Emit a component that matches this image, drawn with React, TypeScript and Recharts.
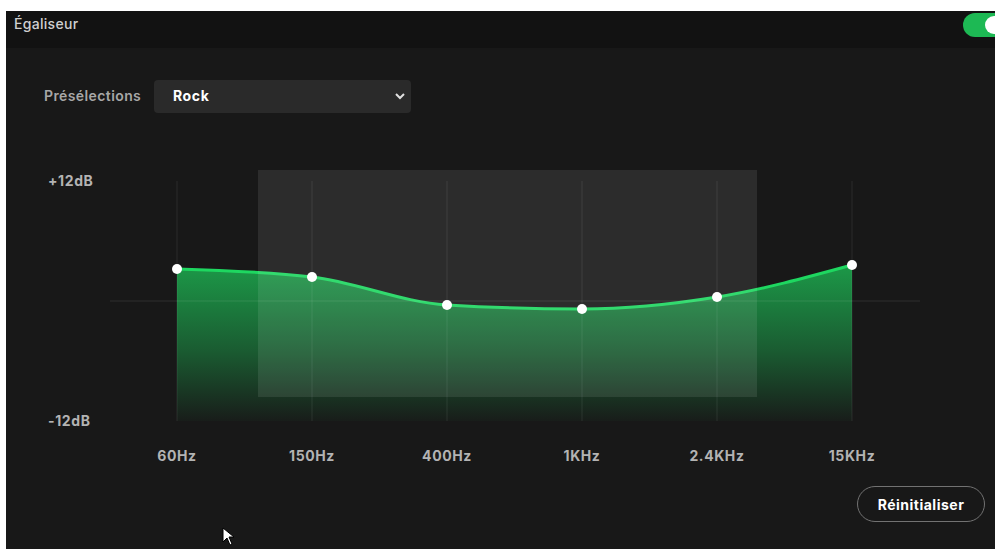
import React from "react"
import {
  AreaChart, Area, XAxis, YAxis, ReferenceLine,
} from "recharts"

// bandes de l'égaliseur (préréglage Rock)
const bands = ["60Hz", "150Hz", "400Hz", "1KHz", "2.4KHz", "15KHz"]
const gains = [3.2, 2.4, -0.4, -0.8, 0.4, 3.6]
const yTicks = [-12, 12]
const yTickLabels: Record<string, string> = { "12": "+12dB", "-12": "-12dB" }

const chartData = bands.map((b, i) => ({ band: b, gain: gains[i] }))

const FONT = "Inter, 'Noto Sans', sans-serif"

function YTick(props: any) {
  const { x, y, payload } = props
  return (
    <text x={x - 62} y={y} dy="0.35em" textAnchor="start" fill="#b3b3b3"
      fontSize={14} fontWeight={700} fontFamily={FONT} letterSpacing={0.6}>
      {yTickLabels[String(payload.value)]}
    </text>
  )
}

function EqChart() {
  return (
    <AreaChart
      width={995}
      height={549}
      data={chartData}
      margin={{ top: 181, right: 75, left: 48, bottom: 78 }}
    >
      <defs>
        <linearGradient id="eqFill" x1="0" y1="0" x2="0" y2="1">
          <stop offset="0%" stopColor="#1db954" stopOpacity={0.8} />
          <stop offset="55%" stopColor="#1db954" stopOpacity={0.42} />
          <stop offset="100%" stopColor="#1db954" stopOpacity={0.03} />
        </linearGradient>
      </defs>
      <XAxis
        dataKey="band"
        padding={{ left: 67, right: 68 }}
        axisLine={false}
        tickLine={false}
        tickSize={0}
        tickMargin={30}
        height={50}
        interval={0}
        tick={{ fill: "#b3b3b3", fontSize: 14, fontWeight: 700, fontFamily: FONT, letterSpacing: 0.6 }}
      />
      <YAxis
        type="number"
        domain={[-12, 12]}
        ticks={yTicks}
        width={62}
        axisLine={false}
        tickLine={false}
        tickSize={0}
        tickMargin={0}
        tick={<YTick />}
      />
      {bands.map((b) => (
        <ReferenceLine key={b} x={b} stroke="rgba(255,255,255,0.09)" strokeWidth={1} />
      ))}
      <ReferenceLine y={0} stroke="rgba(255,255,255,0.07)" strokeWidth={1.5} />
      <Area
        type="monotone"
        dataKey="gain"
        baseValue={-12}
        stroke="#1ed760"
        strokeWidth={3}
        fill="url(#eqFill)"
        fillOpacity={1}
        dot={{ r: 5, fill: "#ffffff", stroke: "none" }}
        activeDot={false}
        isAnimationActive={false}
      />
    </AreaChart>
  )
}

export default function App() {
  return (
    <div style={{ position: "relative", width: 995, height: 549, background: "#ffffff", overflow: "hidden", fontFamily: FONT }}>
      <style>{"body{margin:0}"}</style>
      <div style={{ position: "absolute", left: 6, top: 11, right: 0, bottom: 0, background: "#181818" }} />
      <div style={{ position: "absolute", left: 6, top: 11, right: 0, height: 37, background: "#121212" }} />
      <div style={{ position: "absolute", left: 14, top: 15, color: "#d0d0d0", fontSize: 14, fontWeight: 500, letterSpacing: 0.3 }}>Égaliseur</div>
      <div style={{ position: "absolute", left: 963, top: 13, width: 50, height: 24, borderRadius: 12, background: "#1db954" }}>
        <div style={{ position: "absolute", left: 22, top: 3, width: 18, height: 18, borderRadius: 9, background: "#ffffff" }} />
      </div>

      <div style={{ position: "absolute", left: 44, top: 87, color: "#a7a7a7", fontSize: 14, fontWeight: 600, letterSpacing: 0.4 }}>Présélections</div>
      <div style={{ position: "absolute", left: 154, top: 80, width: 257, height: 33, borderRadius: 4, background: "#2a2a2a" }}>
        <span style={{ position: "absolute", left: 19, top: 7, color: "#ffffff", fontSize: 14, fontWeight: 700, letterSpacing: 0.6 }}>Rock</span>
        <svg style={{ position: "absolute", left: 241, top: 13 }} width={10} height={8}>
          <path d="M1 1 L5 5 L9 1" stroke="#e0e0e0" strokeWidth={2} fill="none" />
        </svg>
      </div>

      <div style={{ position: "absolute", left: 0, top: 0 }}>
        <EqChart />
      </div>

      {/* filigrane gris */}
      <div style={{ position: "absolute", left: 258, top: 170, width: 499, height: 227, background: "rgba(255,255,255,0.09)", pointerEvents: "none" }} />

      <div style={{
        position: "absolute", left: 857, top: 486, width: 128, height: 36, borderRadius: 18,
        border: "1px solid #727272", color: "#ffffff", fontSize: 14, fontWeight: 700, letterSpacing: 0.5,
        display: "flex", alignItems: "center", justifyContent: "center", boxSizing: "border-box",
      }}>Réinitialiser</div>

      <svg style={{ position: "absolute", left: 222, top: 527 }} width={14} height={20}>
        <path d="M1 1 L1 15 L5 11 L8 18 L10 17 L7 10 L12 10 Z" fill="#ffffff" stroke="#000" strokeWidth={1} />
      </svg>
    </div>
  )
}
